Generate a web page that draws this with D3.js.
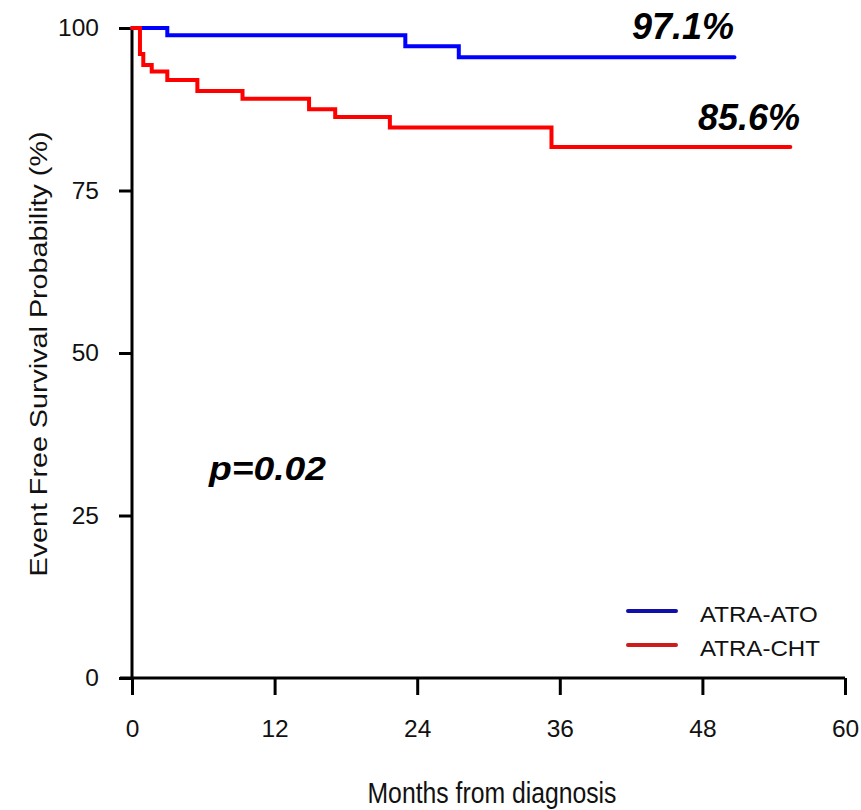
<!DOCTYPE html>
<html><head><meta charset="utf-8">
<script src="https://d3js.org/d3.v7.min.js"></script>
<style>body{margin:0;background:#fff}svg{display:block}</style>
</head><body>
<svg id="chart" width="861" height="810"></svg>
<script>
// Step data: [month, survival %]
const atoTimes = [0, 2.97, 23.0, 27.5, 50.7];
const atoSurv  = [100, 98.9, 97.2, 95.5, 95.5];
const chtTimes = [0, 0.67, 0.95, 1.66, 2.97, 5.5, 9.3, 14.9, 17.1, 21.7, 35.3, 55.4];
const chtSurv  = [100, 96.0, 94.3, 93.3, 92.0, 90.3, 89.1, 87.5, 86.3, 84.7, 81.7, 81.7];
const xTicks = [0, 12, 24, 36, 48, 60];
const yTicks = [0, 25, 50, 75, 100];
const seriesNames = ["ATRA-ATO", "ATRA-CHT"];
const seriesColors = ["#0000ff", "#ff0000"];
const legendColors = ["#1010a8", "#cc1c1c"];
const annotations = ["97.1%", "85.6%"];
const pText = "p=0.02";

const svg = d3.select("#chart");
const font = "Arial, 'Liberation Sans', sans-serif";
const x = d3.scaleLinear().domain([0, 60]).range([132, 845]);
const y = d3.scaleLinear().domain([0, 100]).range([678, 28]);

// Axes
const xAxis = d3.axisBottom(x).tickValues(xTicks).tickSize(17).tickPadding(25).tickSizeOuter(0);
const gx = svg.append("g").attr("transform", `translate(0,${y(0)})`).call(xAxis);
gx.select(".domain").attr("stroke", "#000").attr("stroke-width", 3).attr("d", `M${x(0)-12},0H${x(60)}`);
gx.selectAll(".tick line").attr("stroke", "#000").attr("stroke-width", 3);
gx.selectAll(".tick text").attr("font-family", font).attr("font-size", 24.5).attr("fill", "#111");

const yAxis = d3.axisLeft(y).tickValues(yTicks).tickSize(13).tickPadding(20).tickSizeOuter(0);
const gy = svg.append("g").attr("transform", `translate(${x(0)},0)`).call(yAxis);
gy.select(".domain").attr("stroke", "#000").attr("stroke-width", 3).attr("d", `M0,${y(0)}V${y(100)}`);
gy.selectAll(".tick line").attr("stroke", "#000").attr("stroke-width", 3);
gy.selectAll(".tick text").attr("font-family", font).attr("font-size", 24.5).attr("fill", "#111");

// Axis titles
svg.append("text").attr("x", 492).attr("y", 803).attr("text-anchor", "middle")
  .attr("font-family", font).attr("font-size", 30).attr("fill", "#111")
  .attr("textLength", 249).attr("lengthAdjust", "spacingAndGlyphs")
  .text("Months from diagnosis");
svg.append("text").attr("transform", "translate(47,354) rotate(-90)").attr("text-anchor", "middle")
  .attr("font-family", font).attr("font-size", 23.3).attr("fill", "#111")
  .attr("textLength", 445).attr("lengthAdjust", "spacingAndGlyphs")
  .text("Event Free Survival Probability (%)");

// Curves
const line = d3.line().x(d => x(d[0])).y(d => y(d[1])).curve(d3.curveStepAfter);
const series = [
  atoTimes.map((t, i) => [t, atoSurv[i]]),
  chtTimes.map((t, i) => [t, chtSurv[i]])
];
series.forEach((s, i) => {
  svg.append("path").datum(s).attr("d", line).attr("fill", "none")
    .attr("stroke", seriesColors[i]).attr("stroke-width", 4).attr("stroke-linecap", "round");
});

// Annotations
svg.append("text").attr("x", 734).attr("y", 39).attr("text-anchor", "end")
  .attr("font-family", font).attr("font-size", 36).attr("font-weight", "bold").attr("font-style", "italic")
  .text(annotations[0]);
svg.append("text").attr("x", 800).attr("y", 130).attr("text-anchor", "end")
  .attr("font-family", font).attr("font-size", 36).attr("font-weight", "bold").attr("font-style", "italic")
  .text(annotations[1]);
svg.append("text").attr("x", 209).attr("y", 480)
  .attr("font-family", font).attr("font-size", 33).attr("font-weight", "bold").attr("font-style", "italic")
  .attr("textLength", 117).attr("lengthAdjust", "spacingAndGlyphs")
  .text(pText);

// Legend
const legend = svg.append("g");
seriesNames.forEach((n, i) => {
  const ly = 611 + i * 34;
  legend.append("line").attr("x1", 628).attr("x2", 676).attr("y1", ly).attr("y2", ly)
    .attr("stroke", legendColors[i]).attr("stroke-width", 4).attr("stroke-linecap", "round");
  legend.append("text").attr("x", 700).attr("y", ly + 11).attr("font-family", font).attr("font-size", 22.3)
    .attr("fill", "#111").attr("transform", `translate(700,0) scale(1.08,1) translate(-700,0)`)
    .text(n);
});
</script>
</body></html>
